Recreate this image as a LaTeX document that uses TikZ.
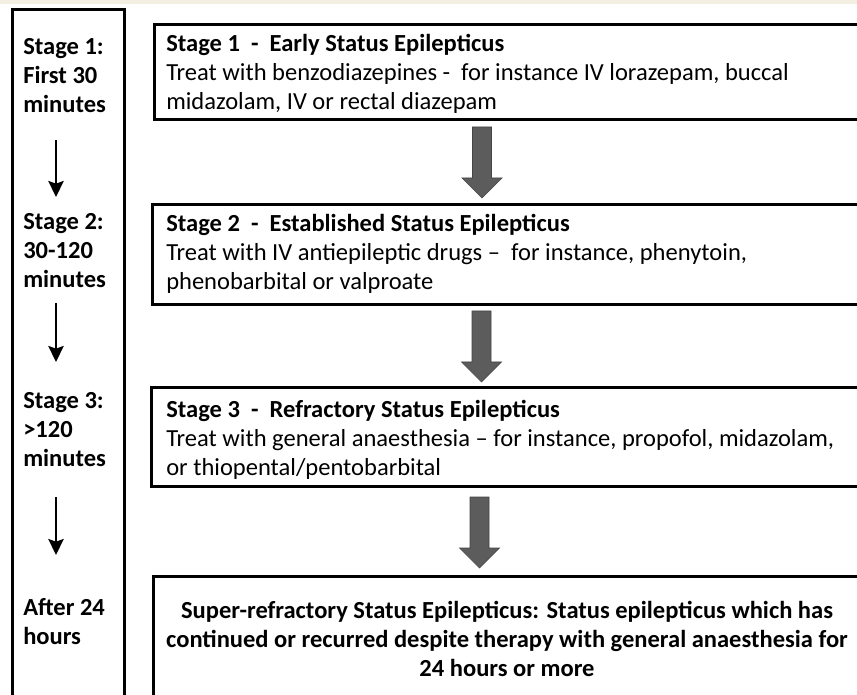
\documentclass[tikz,border=0pt]{standalone}
\usepackage{fontspec}
\setmainfont{Carlito}
\usetikzlibrary{arrows.meta,calc}
\definecolor{beige}{HTML}{F3EFE3}
\definecolor{arrowgray}{HTML}{5C5C5C}
\definecolor{arrowedge}{HTML}{444444}
\newcommand\Lcol[1]{\vtop{\baselineskip=21.75pt\halign{##\hfil\cr#1\crcr}}}
\newcommand\Ccol[1]{\vtop{\baselineskip=21.75pt\halign{\hfil##\hfil\cr#1\crcr}}}
\tikzset{
  box/.style={draw=black, line width=2.4pt, fill=white, inner sep=0pt, anchor=north west},
  lbl/.style={inner sep=0pt, font=\fontsize{18.4}{21.75}\selectfont},
  blbl/.style={inner sep=0pt, font=\fontsize{18.4}{21.75}\selectfont\bfseries},
  timearrow/.style={line width=1.7pt, -{Stealth[length=12pt,width=11.5pt,inset=2pt]}},
  blockarrow/.pic={
    \filldraw[fill=arrowgray, draw=arrowedge, line width=0.5pt]
      (-9.5,0) -- (9.5,0) -- (9.5,51) -- (20,51) -- (0,71) -- (-20,51) -- (-9.5,51) -- cycle;
  }
}
\begin{document}
\begin{tikzpicture}[x=0.75pt, y=-0.75pt]
\useasboundingbox (0,0) rectangle (857,695);
\fill[white] (0,0) rectangle (857,695);
\fill[beige] (0,0) rectangle (857,4);

% left time column
\node[box, minimum width=84pt, minimum height=522.75pt] (tbox) at (11,8) {};
\node[blbl, anchor=base west] (l1) at (23,55) {\Lcol{Stage 1:\cr First 30\cr minutes}};
\node[blbl, anchor=base west] (l2) at (23,230) {\Lcol{Stage 2:\cr 30-120\cr minutes}};
\node[blbl, anchor=base west] (l3) at (23,408) {\Lcol{Stage 3:\cr >120\cr minutes}};
\node[blbl, anchor=base west] (l4) at (23,615) {\Lcol{After 24\cr hours}};

\coordinate (a1s) at (56,140); \coordinate (a1e) at (56,197);
\coordinate (a2s) at (56,303); \coordinate (a2e) at (56,362);
\coordinate (a3s) at (56,497); \coordinate (a3e) at (56,555);
\draw[timearrow] (a1s) -- (a1e);
\draw[timearrow] (a2s) -- (a2e);
\draw[timearrow] (a3s) -- (a3e);

% stage boxes
\node[box, minimum width=539.25pt, minimum height=71.25pt] (b1) at (153,23) {};
\node[box, minimum width=540.75pt, minimum height=75pt] (b2) at (151,203) {};
\node[box, minimum width=541.5pt, minimum height=74.25pt] (b3) at (150,386) {};
\node[box, minimum width=540pt, minimum height=97.5pt] (b4) at (152,575) {};

\node[lbl, anchor=base west] (s1) at (166,52) {\Lcol{\textbf{Stage 1~ -~ Early Status Epilepticus}\cr
Treat with benzodiazepines -~ for instance IV lorazepam, buccal\cr
midazolam, IV or rectal diazepam}};
\node[lbl, anchor=base west] (s2) at (166,232) {\Lcol{\textbf{Stage 2~ -~ Established Status Epilepticus}\cr
Treat with IV antiepileptic drugs --~ for instance, phenytoin,\cr
phenobarbital or valproate}};
\node[lbl, anchor=base west] (s3) at (166,417) {\Lcol{\textbf{Stage 3~ -~ Refractory Status Epilepticus}\cr
Treat with general anaesthesia -- for instance, propofol, midazolam,\cr
or thiopental/pentobarbital}};
\node[blbl, anchor=base] (s4) at (507,618) {\Ccol{Super-refractory Status Epilepticus: Status epilepticus which has\cr
continued or recurred despite therapy with general anaesthesia for\cr
24 hours or more}};

% block arrows between stage boxes
\pic at (482,127) {blockarrow};
\pic at (481.5,311) {blockarrow};
\pic at (479.5,497) {blockarrow};
\end{tikzpicture}
\end{document}
